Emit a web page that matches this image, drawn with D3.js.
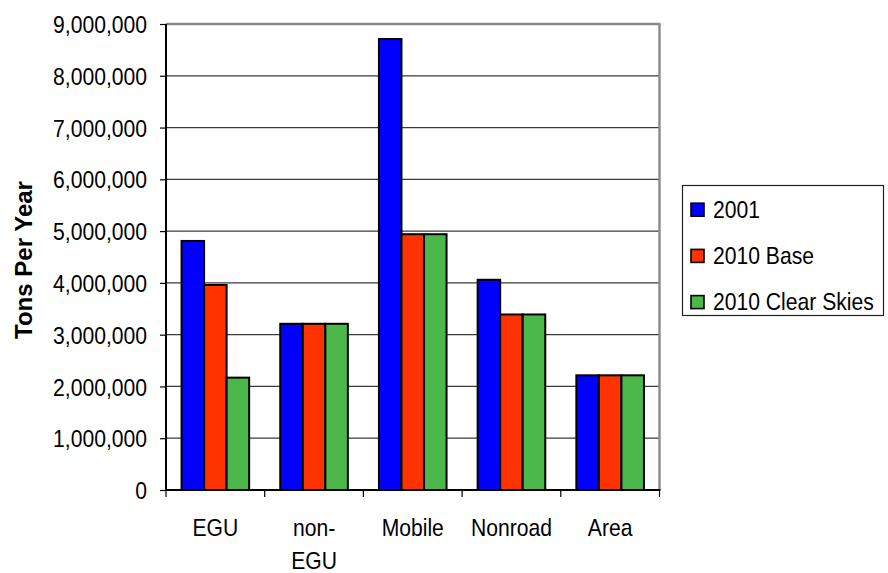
<!DOCTYPE html>
<html>
<head>
<meta charset="utf-8">
<script src="https://cdn.jsdelivr.net/npm/d3@7"></script>
<style>
  html, body { margin: 0; padding: 0; background: #fff; }
  svg { display: block; }
  text { font-family: "Liberation Sans", Arial, sans-serif; fill: #000; }
</style>
</head>
<body>
<svg id="chart" width="888" height="573"></svg>
<script>
// ---- data ----
const categories = ["EGU", "non-EGU", "Mobile", "Nonroad", "Area"];
const categoryLines = [["EGU"], ["non-", "EGU"], ["Mobile"], ["Nonroad"], ["Area"]];
const seriesNames = ["2001", "2010 Base", "2010 Clear Skies"];
const values2001 = [4810000, 3210000, 8710000, 4060000, 2215000];
const values2010Base = [3960000, 3210000, 4940000, 3390000, 2215000];
const values2010ClearSkies = [2170000, 3210000, 4940000, 3390000, 2215000];
const yTicks = [0, 1000000, 2000000, 3000000, 4000000, 5000000, 6000000, 7000000, 8000000, 9000000];
const yMax = 9000000;
const yTitle = "Tons Per Year";

const seriesValues = [values2001, values2010Base, values2010ClearSkies];
const colors = ["#0000FF", "#FF3300", "#4CB84C"];

// ---- layout ----
const svg = d3.select("#chart");
const plot = { left: 166, right: 659.5, top: 24, bottom: 490 };
const condense = 0.88;

const x0 = d3.scaleBand().domain(categories).range([plot.left, plot.right]).padding(0);
const x1 = d3.scaleBand().domain(seriesNames).range([0, x0.bandwidth()]).paddingInner(0).paddingOuter(0.69);
const y = d3.scaleLinear().domain([0, yMax]).range([plot.bottom, plot.top]);

// gridlines
svg.append("g").selectAll("line").data(yTicks.filter(t => t > 0 && t < yMax)).join("line")
  .attr("x1", plot.left).attr("x2", plot.right)
  .attr("y1", d => y(d)).attr("y2", d => y(d))
  .attr("stroke", "#3a3a3a").attr("stroke-width", 1.2);

// plot border top/right (gray)
svg.append("line").attr("x1", plot.left).attr("x2", plot.right + 1)
  .attr("y1", y(yMax)).attr("y2", y(yMax)).attr("stroke", "#8a8a8a").attr("stroke-width", 2.4);
svg.append("line").attr("x1", plot.right).attr("x2", plot.right)
  .attr("y1", plot.top).attr("y2", plot.bottom).attr("stroke", "#8a8a8a").attr("stroke-width", 2.4);

// bars
const groups = svg.append("g").selectAll("g").data(categories).join("g")
  .attr("transform", d => `translate(${x0(d)},0)`);
groups.selectAll("rect").data((c, i) => seriesNames.map((s, j) => ({ s, j, v: seriesValues[j][i] })))
  .join("rect")
  .attr("x", d => x1(d.s))
  .attr("width", x1.bandwidth())
  .attr("y", d => y(d.v))
  .attr("height", d => y(0) - y(d.v))
  .attr("fill", d => colors[d.j])
  .attr("stroke", "#000").attr("stroke-width", 2);

// y axis
const yAxis = svg.append("g").attr("transform", `translate(${plot.left},0)`)
  .call(d3.axisLeft(y).tickValues(yTicks).tickSize(6).tickFormat(d3.format(",")));
yAxis.select(".domain").attr("stroke", "#000").attr("stroke-width", 2)
  .attr("d", `M0,${plot.top}V${plot.bottom}`);
yAxis.selectAll(".tick line").attr("stroke", "#000").attr("stroke-width", 1.2);
yAxis.selectAll(".tick text").remove();
yAxis.selectAll(".tick").append("text")
  .attr("text-anchor", "end")
  .attr("transform", `translate(-19,8.6) scale(${condense},1)`)
  .attr("font-size", 24)
  .attr("fill", "#000")
  .text(d => d3.format(",")(d));

// x axis
const xAxis = svg.append("g").attr("transform", `translate(0,${plot.bottom})`);
xAxis.append("line").attr("x1", plot.left - 1).attr("x2", plot.right + 1)
  .attr("y1", 0).attr("y2", 0).attr("stroke", "#000").attr("stroke-width", 2);
const boundaries = categories.map(c => x0(c)).concat([plot.right]);
xAxis.selectAll("line.tk").data(boundaries).join("line").attr("class", "tk")
  .attr("x1", d => d).attr("x2", d => d).attr("y1", 0).attr("y2", 7)
  .attr("stroke", "#000").attr("stroke-width", 1.2);
categories.forEach((c, i) => {
  const cx = x0(c) + x0.bandwidth() / 2;
  categoryLines[i].forEach((ln, k) => {
    svg.append("text")
      .attr("text-anchor", "middle")
      .attr("transform", `translate(${cx},${536 + k * 32.5}) scale(${condense},1)`)
      .attr("font-size", 24)
      .text(ln);
  });
});

// y title
svg.append("text")
  .attr("transform", `translate(32,${(plot.top + plot.bottom) / 2 + 3}) rotate(-90)`)
  .attr("text-anchor", "middle")
  .attr("font-size", 24)
  .attr("font-weight", "bold")
  .text(yTitle);

// legend
const legend = svg.append("g");
legend.append("rect").attr("x", 682.5).attr("y", 185.5).attr("width", 201).attr("height", 130)
  .attr("fill", "#fff").attr("stroke", "#222").attr("stroke-width", 1.2);
seriesNames.forEach((s, i) => {
  const cy = 209.7 + i * 46.2;
  legend.append("rect").attr("x", 691).attr("y", cy - 6.5).attr("width", 13).attr("height", 13)
    .attr("fill", colors[i]).attr("stroke", "#000").attr("stroke-width", 1.6);
  legend.append("text")
    .attr("transform", `translate(713,${cy + 7.8}) scale(${condense},1)`)
    .attr("font-size", 24)
    .text(s);
});
</script>
</body>
</html>
